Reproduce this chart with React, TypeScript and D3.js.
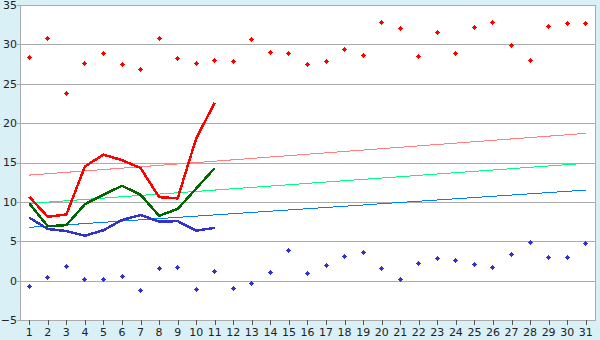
import React from "react";
import * as d3 from "d3";

const days = d3.range(1, 32);
const yTicks = [-5, 0, 5, 10, 15, 20, 25, 30, 35];

const maxPoints = [28.3, 30.8, 23.8, 27.6, 28.9, 27.5, 26.8, 30.8, 28.2, 27.6, 28.0, 27.8, 30.6, 29.0, 28.9, 27.5, 27.8, 29.4, 28.6, 32.8, 32.0, 28.5, 31.5, 28.9, 32.2, 32.8, 29.9, 28.0, 32.3, 32.7, 32.7];
const minPoints = [-0.73, 0.42, 1.8, 0.16, 0.16, 0.54, -1.24, 1.56, 1.69, -1.1, 1.18, -0.98, -0.35, 1.05, 3.85, 0.93, 1.94, 3.08, 3.59, 1.56, 0.16, 2.2, 2.83, 2.58, 2.07, 1.69, 3.34, 4.86, 2.96, 2.96, 4.74];

const lineDays = d3.range(1, 12);
const redLine = [10.65, 8.1, 8.4, 14.5, 16.0, 15.3, 14.3, 10.6, 10.45, 18.07, 22.6];
const greenLine = [9.8, 6.9, 7.05, 9.7, 10.9, 12.05, 10.9, 8.24, 9.1, 11.7, 14.3];
const blueLine = [8.0, 6.55, 6.3, 5.7, 6.4, 7.7, 8.33, 7.5, 7.55, 6.35, 6.7];

const trendDays = [1, 31];
const redTrend = [13.4, 18.7];
const greenTrend = [9.8, 14.9];
const blueTrend = [6.77, 11.5];

const W = 600;
const H = 340;
const left = 20;
const right = 595;
const top = 5;
const bottom = 320;

export default function App() {
  const x = d3.scaleBand<number>().domain(days).range([left, right]).paddingInner(0).paddingOuter(0);
  const cx = (d: number) => (x(d) ?? 0) + x.bandwidth() / 2;
  const y = d3.scaleLinear().domain([-5, 35]).range([bottom, top]);

  const line = d3
    .line<[number, number]>()
    .x((p) => cx(p[0]))
    .y((p) => y(p[1]));

  const series = (ds: number[], vs: number[]) => line(ds.map((d, i) => [d, vs[i]] as [number, number])) ?? "";

  // stepped diamond marker: rows 1,3,5,3,1 px, centered on a pixel
  const marker = (px: number, py: number) => {
    const L = Math.floor(px) - 2;
    const T = Math.floor(py) - 2;
    return `M${L + 2},${T}h1v1h1v1h1v1h-1v1h-1v1h-1v-1h-1v-1h-1v-1h1v-1h1Z`;
  };

  const font = "'DejaVu Sans', Verdana, sans-serif";

  return (
    <svg width={W} height={H} style={{ position: "absolute", left: 0, top: 0 }}>
      <rect x={0} y={0} width={W} height={H} fill="#d9f0f6" />
      <rect x={left} y={top} width={right - left} height={bottom - top} fill="#ffffff" />
      {yTicks.map((t) => (
        <g key={t} shapeRendering="crispEdges">
          <line x1={left - 3} x2={right} y1={Math.round(y(t)) + 0.5} y2={Math.round(y(t)) + 0.5} stroke="#ababab" />
          <text
            x={left - 3}
            y={y(t)}
            dy="0.36em"
            textAnchor="end"
            fontFamily={font}
            fontSize={11}
            fill="#222"
          >
            {t < 0 ? "\u2212" + Math.abs(t) : t}
          </text>
        </g>
      ))}
      <line x1={left + 0.5} x2={left + 0.5} y1={top} y2={bottom} stroke="#ababab" shapeRendering="crispEdges" />
      <line x1={right + 0.5} x2={right + 0.5} y1={top} y2={bottom + 1} stroke="#ababab" shapeRendering="crispEdges" />
      {days.map((d) => (
        <g key={d} shapeRendering="crispEdges">
          <line x1={Math.round(cx(d)) + 0.5} x2={Math.round(cx(d)) + 0.5} y1={bottom} y2={bottom + 5} stroke="#555" />
          <text x={cx(d)} y={336} textAnchor="middle" fontFamily={font} fontSize={11} fill="#222">
            {d}
          </text>
        </g>
      ))}
      <g fill="none" shapeRendering="crispEdges">
        <path d={series(trendDays, redTrend)} stroke="#ff8080" strokeWidth={1} />
        <path d={series(trendDays, greenTrend)} stroke="#00ff80" strokeWidth={1} />
        <path d={series(trendDays, blueTrend)} stroke="#0080ff" strokeWidth={1} />
      </g>
      <g fill="none" strokeLinejoin="round" shapeRendering="crispEdges">
        <path d={series(lineDays, blueLine)} stroke="#3333cc" strokeWidth={2.5} />
        <path d={series(lineDays, greenLine)} stroke="#006600" strokeWidth={2.5} />
        <path d={series(lineDays, redLine)} stroke="#ff0000" strokeWidth={2.5} />
      </g>
      <g shapeRendering="crispEdges">
        {maxPoints.map((v, i) => (
          <path key={"mx" + i} d={marker(cx(days[i]), y(v))} fill="#ff0000" />
        ))}
        {minPoints.map((v, i) => (
          <path key={"mn" + i} d={marker(cx(days[i]), y(v))} fill="#3333cc" />
        ))}
      </g>
    </svg>
  );
}
